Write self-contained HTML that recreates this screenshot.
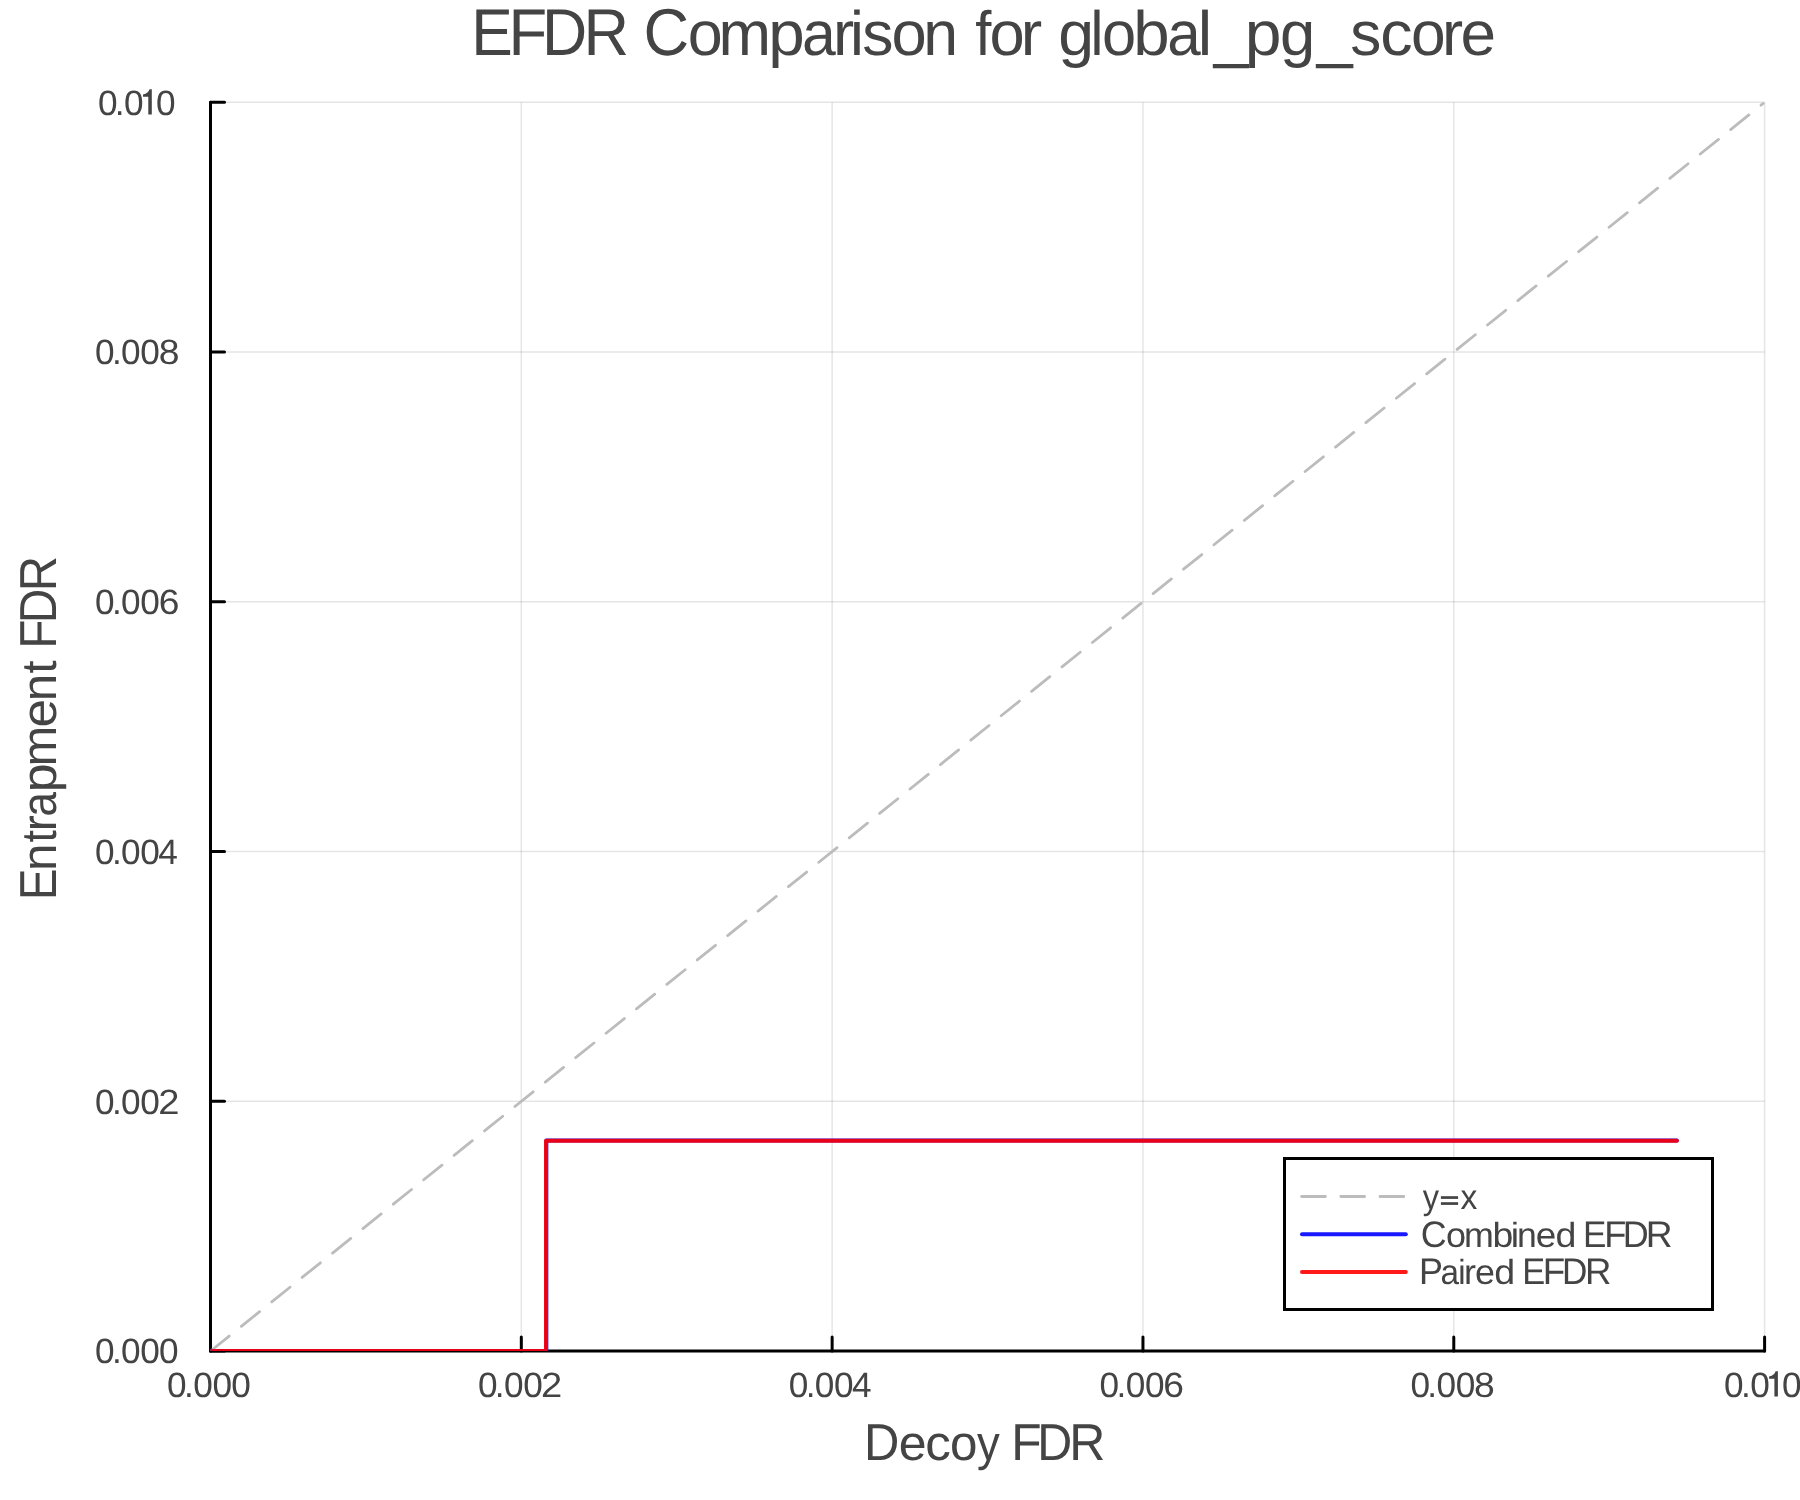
<!DOCTYPE html>
<html><head><meta charset="utf-8"><title>EFDR Comparison for global_pg_score</title>
<style>
html,body{margin:0;padding:0;background:#fff;width:1800px;height:1500px;overflow:hidden}
svg{display:block}
text{font-family:"Liberation Sans",sans-serif;font-kerning:none;text-rendering:geometricPrecision;fill:#444444}
</style></head>
<body>
<svg width="1800" height="1500" viewBox="0 0 1800 1500">
<rect width="1800" height="1500" fill="#fff"/>
<line x1="521.32" y1="102.30" x2="521.32" y2="1351.10" stroke="#000" stroke-opacity="0.1" stroke-width="1.5"/>
<line x1="832.14" y1="102.30" x2="832.14" y2="1351.10" stroke="#000" stroke-opacity="0.1" stroke-width="1.5"/>
<line x1="1142.96" y1="102.30" x2="1142.96" y2="1351.10" stroke="#000" stroke-opacity="0.1" stroke-width="1.5"/>
<line x1="1453.78" y1="102.30" x2="1453.78" y2="1351.10" stroke="#000" stroke-opacity="0.1" stroke-width="1.5"/>
<line x1="1764.60" y1="102.30" x2="1764.60" y2="1351.10" stroke="#000" stroke-opacity="0.1" stroke-width="1.5"/>
<line x1="210.50" y1="1101.34" x2="1764.60" y2="1101.34" stroke="#000" stroke-opacity="0.1" stroke-width="1.5"/>
<line x1="210.50" y1="851.58" x2="1764.60" y2="851.58" stroke="#000" stroke-opacity="0.1" stroke-width="1.5"/>
<line x1="210.50" y1="601.82" x2="1764.60" y2="601.82" stroke="#000" stroke-opacity="0.1" stroke-width="1.5"/>
<line x1="210.50" y1="352.06" x2="1764.60" y2="352.06" stroke="#000" stroke-opacity="0.1" stroke-width="1.5"/>
<line x1="210.50" y1="102.30" x2="1764.60" y2="102.30" stroke="#000" stroke-opacity="0.1" stroke-width="1.5"/>
<polyline points="210.5,102.3 210.5,1351.1 1764.6,1351.1" stroke="#000" stroke-width="3" stroke-linecap="round" fill="none" stroke-linejoin="round"/>
<line x1="210.5" y1="1351.10" x2="224.5" y2="1351.10" stroke="#000" stroke-width="3" stroke-linecap="round" fill="none"/>
<line x1="210.50" y1="1351.1" x2="210.50" y2="1337.1" stroke="#000" stroke-width="3" stroke-linecap="round" fill="none"/>
<line x1="210.5" y1="1101.34" x2="224.5" y2="1101.34" stroke="#000" stroke-width="3" stroke-linecap="round" fill="none"/>
<line x1="521.32" y1="1351.1" x2="521.32" y2="1337.1" stroke="#000" stroke-width="3" stroke-linecap="round" fill="none"/>
<line x1="210.5" y1="851.58" x2="224.5" y2="851.58" stroke="#000" stroke-width="3" stroke-linecap="round" fill="none"/>
<line x1="832.14" y1="1351.1" x2="832.14" y2="1337.1" stroke="#000" stroke-width="3" stroke-linecap="round" fill="none"/>
<line x1="210.5" y1="601.82" x2="224.5" y2="601.82" stroke="#000" stroke-width="3" stroke-linecap="round" fill="none"/>
<line x1="1142.96" y1="1351.1" x2="1142.96" y2="1337.1" stroke="#000" stroke-width="3" stroke-linecap="round" fill="none"/>
<line x1="210.5" y1="352.06" x2="224.5" y2="352.06" stroke="#000" stroke-width="3" stroke-linecap="round" fill="none"/>
<line x1="1453.78" y1="1351.1" x2="1453.78" y2="1337.1" stroke="#000" stroke-width="3" stroke-linecap="round" fill="none"/>
<line x1="210.5" y1="102.30" x2="224.5" y2="102.30" stroke="#000" stroke-width="3" stroke-linecap="round" fill="none"/>
<line x1="1764.60" y1="1351.1" x2="1764.60" y2="1337.1" stroke="#000" stroke-width="3" stroke-linecap="round" fill="none"/>
<clipPath id="c"><rect x="210.5" y="102.3" width="1554.10" height="1248.80"/></clipPath>
<g clip-path="url(#c)"><line x1="210.5" y1="1351.1" x2="1764.6" y2="102.3" stroke="#bcbcbc" stroke-width="2.8" stroke-dasharray="23.4 15.59" stroke-dashoffset="-0.6" stroke-linecap="round"/>
<polyline points="210.5,1351.1 546.35,1351.1 546.35,1140.5 1676.9,1140.5" fill="none" stroke="#0000ff" stroke-opacity="0.9" stroke-width="4" stroke-linecap="round" stroke-linejoin="round"/>
<polyline points="210.5,1351.1 546.0,1351.1 546.0,1140.85 1676.9,1140.85" fill="none" stroke="#ff0000" stroke-opacity="0.9" stroke-width="4" stroke-linecap="round" stroke-linejoin="round"/></g>
<rect x="1284.5" y="1158.5" width="428" height="151" fill="#fff" stroke="#000" stroke-width="3"/>
<line x1="1301.6" y1="1196.5" x2="1403.8" y2="1196.5" stroke="#bcbcbc" stroke-width="2.8" stroke-dasharray="23.8 15.4" stroke-linecap="round"/>
<line x1="1302" y1="1234.2" x2="1405.8" y2="1234.2" stroke="#0000ff" stroke-opacity="0.9" stroke-width="4" stroke-linecap="round"/>
<line x1="1302" y1="1271.9" x2="1405.8" y2="1271.9" stroke="#ff0000" stroke-opacity="0.9" stroke-width="4" stroke-linecap="round"/>
<g opacity="0.999">
<text transform="translate(471.14,54.70) scale(0.9392,1.0)" font-size="66.3">E</text>
<text transform="translate(508.56,54.70) scale(0.9551,1.0)" font-size="66.3">F</text>
<text transform="translate(541.96,54.70) scale(0.9448,1.0)" font-size="66.3">D</text>
<text transform="translate(583.57,54.70) scale(0.9526,1.0)" font-size="66.3">R</text>
<text transform="translate(643.49,54.70) scale(0.9527,1.0)" font-size="66.3">C</text>
<text transform="translate(687.76,54.70) scale(0.9487,0.945)" font-size="66.3">o</text>
<text transform="translate(718.61,54.70) scale(0.9515,0.945)" font-size="66.3">m</text>
<text transform="translate(768.27,54.70) scale(0.9894,0.945)" font-size="66.3">p</text>
<text transform="translate(802.12,54.70) scale(0.9161,0.945)" font-size="66.3">a</text>
<text transform="translate(832.88,54.70) scale(0.9593,0.945)" font-size="66.3">r</text>
<text transform="translate(850.01,54.70) scale(0.9439,0.945)" font-size="66.3">i</text>
<text transform="translate(862.26,54.70) scale(0.9409,0.945)" font-size="66.3">s</text>
<text transform="translate(891.54,54.70) scale(0.9551,0.945)" font-size="66.3">o</text>
<text transform="translate(923.14,54.70) scale(0.9444,0.945)" font-size="66.3">n</text>
<text transform="translate(975.22,54.70) scale(0.8764,0.945)" font-size="66.3">f</text>
<text transform="translate(989.44,54.70) scale(0.9551,0.945)" font-size="66.3">o</text>
<text transform="translate(1020.82,54.70) scale(0.9713,0.945)" font-size="66.3">r</text>
<text transform="translate(1058.19,54.70) scale(0.9726,0.945)" font-size="66.3">g</text>
<text transform="translate(1090.58,54.70) scale(0.8764,0.945)" font-size="66.3">l</text>
<text transform="translate(1102.12,54.70) scale(0.9264,0.945)" font-size="66.3">o</text>
<text transform="translate(1133.29,54.70) scale(0.9861,0.945)" font-size="66.3">b</text>
<text transform="translate(1167.34,54.70) scale(0.9073,0.945)" font-size="66.3">a</text>
<text transform="translate(1197.73,54.70) scale(0.9782,0.945)" font-size="66.3">l</text>
<text transform="translate(1213.85,54.70) scale(0.9425,1.0)" font-size="66.3">_</text>
<text transform="translate(1244.74,54.70) scale(0.9961,0.945)" font-size="66.3">p</text>
<text transform="translate(1279.94,54.70) scale(0.9559,0.945)" font-size="66.3">g</text>
<text transform="translate(1316.78,54.70) scale(0.9736,1.0)" font-size="66.3">_</text>
<text transform="translate(1350.37,54.70) scale(0.9374,0.945)" font-size="66.3">s</text>
<text transform="translate(1380.15,54.70) scale(0.9760,0.945)" font-size="66.3">c</text>
<text transform="translate(1410.89,54.70) scale(0.9392,0.945)" font-size="66.3">o</text>
<text transform="translate(1442.04,54.70) scale(0.9563,0.945)" font-size="66.3">r</text>
<text transform="translate(1460.58,54.70) scale(0.9643,0.945)" font-size="66.3">e</text>
<text transform="translate(864.08,1459.90) scale(0.9434,1.0)" font-size="51.9">D</text>
<text transform="translate(898.67,1459.90) scale(0.9650,0.945)" font-size="51.9">e</text>
<text transform="translate(925.32,1459.90) scale(0.9876,0.945)" font-size="51.9">c</text>
<text transform="translate(950.03,1459.90) scale(0.9508,0.945)" font-size="51.9">o</text>
<text transform="translate(976.95,1459.90) scale(0.8780,0.945)" font-size="51.9">y</text>
<text transform="translate(1011.22,1459.90) scale(0.9579,1.0)" font-size="51.9">F</text>
<text transform="translate(1037.33,1459.90) scale(0.9336,1.0)" font-size="51.9">D</text>
<text transform="translate(1069.20,1459.90) scale(0.9638,1.0)" font-size="51.9">R</text>
<text transform="translate(55.90,900.30) rotate(-90) scale(0.9154,1.0)" font-size="52.0">E</text>
<text transform="translate(55.90,870.88) rotate(-90) scale(0.9507,0.945)" font-size="52.0">n</text>
<text transform="translate(55.90,842.48) rotate(-90) scale(0.8585,0.945)" font-size="52.0">t</text>
<text transform="translate(55.90,831.19) rotate(-90) scale(0.9231,0.945)" font-size="52.0">r</text>
<text transform="translate(55.90,816.69) rotate(-90) scale(0.8536,0.945)" font-size="52.0">a</text>
<text transform="translate(55.90,792.30) rotate(-90) scale(0.9969,0.945)" font-size="52.0">p</text>
<text transform="translate(55.90,766.44) rotate(-90) scale(0.9386,0.945)" font-size="52.0">m</text>
<text transform="translate(55.90,727.47) rotate(-90) scale(0.9836,0.945)" font-size="52.0">e</text>
<text transform="translate(55.90,701.37) rotate(-90) scale(0.9461,0.945)" font-size="52.0">n</text>
<text transform="translate(55.90,673.51) rotate(-90) scale(0.9037,0.945)" font-size="52.0">t</text>
<text transform="translate(55.90,648.83) rotate(-90) scale(0.9207,1.0)" font-size="52.0">F</text>
<text transform="translate(55.90,623.32) rotate(-90) scale(0.9189,1.0)" font-size="52.0">D</text>
<text transform="translate(55.90,591.32) rotate(-90) scale(0.9425,1.0)" font-size="52.0">R</text>
<text x="95.03" y="1363.30" font-size="35.2">0</text>
<text x="111.89" y="1363.30" font-size="35.2">.</text>
<text x="121.12" y="1363.30" font-size="35.2">0</text>
<text x="140.32" y="1363.30" font-size="35.2">0</text>
<text x="159.12" y="1363.30" font-size="35.2">0</text>
<text x="167.12" y="1396.50" font-size="35.2">0</text>
<text x="183.99" y="1396.50" font-size="35.2">.</text>
<text x="193.22" y="1396.50" font-size="35.2">0</text>
<text x="212.43" y="1396.50" font-size="35.2">0</text>
<text x="231.22" y="1396.50" font-size="35.2">0</text>
<text x="95.03" y="1113.54" font-size="35.2">0</text>
<text x="111.89" y="1113.54" font-size="35.2">.</text>
<text x="121.12" y="1113.54" font-size="35.2">0</text>
<text x="140.32" y="1113.54" font-size="35.2">0</text>
<text transform="translate(158.18,1113.54) scale(1.0851,1)" font-size="35.2">2</text>
<text x="477.94" y="1396.50" font-size="35.2">0</text>
<text x="494.81" y="1396.50" font-size="35.2">.</text>
<text x="504.04" y="1396.50" font-size="35.2">0</text>
<text x="523.24" y="1396.50" font-size="35.2">0</text>
<text transform="translate(541.10,1396.50) scale(1.0851,1)" font-size="35.2">2</text>
<text x="95.03" y="863.78" font-size="35.2">0</text>
<text x="111.89" y="863.78" font-size="35.2">.</text>
<text x="121.12" y="863.78" font-size="35.2">0</text>
<text x="140.32" y="863.78" font-size="35.2">0</text>
<text transform="translate(158.29,863.78) scale(1.0001,1)" font-size="35.2">4</text>
<text x="788.76" y="1396.50" font-size="35.2">0</text>
<text x="805.63" y="1396.50" font-size="35.2">.</text>
<text x="814.87" y="1396.50" font-size="35.2">0</text>
<text x="834.06" y="1396.50" font-size="35.2">0</text>
<text transform="translate(852.03,1396.50) scale(1.0001,1)" font-size="35.2">4</text>
<text x="95.03" y="614.02" font-size="35.2">0</text>
<text x="111.89" y="614.02" font-size="35.2">.</text>
<text x="121.12" y="614.02" font-size="35.2">0</text>
<text x="140.32" y="614.02" font-size="35.2">0</text>
<text transform="translate(158.71,614.02) scale(1.0590,1)" font-size="35.2">6</text>
<text x="1099.59" y="1396.50" font-size="35.2">0</text>
<text x="1116.45" y="1396.50" font-size="35.2">.</text>
<text x="1125.68" y="1396.50" font-size="35.2">0</text>
<text x="1144.88" y="1396.50" font-size="35.2">0</text>
<text transform="translate(1163.27,1396.50) scale(1.0590,1)" font-size="35.2">6</text>
<text x="95.03" y="364.26" font-size="35.2">0</text>
<text x="111.89" y="364.26" font-size="35.2">.</text>
<text x="121.12" y="364.26" font-size="35.2">0</text>
<text x="140.32" y="364.26" font-size="35.2">0</text>
<text transform="translate(158.68,364.26) scale(1.0595,1)" font-size="35.2">8</text>
<text x="1410.40" y="1396.50" font-size="35.2">0</text>
<text x="1427.27" y="1396.50" font-size="35.2">.</text>
<text x="1436.50" y="1396.50" font-size="35.2">0</text>
<text x="1455.70" y="1396.50" font-size="35.2">0</text>
<text transform="translate(1474.06,1396.50) scale(1.0595,1)" font-size="35.2">8</text>
<text x="97.92" y="114.50" font-size="35.2">0</text>
<text x="114.79" y="114.50" font-size="35.2">.</text>
<text x="124.12" y="114.50" font-size="35.2">0</text>
<path d="M151.80,89.20 L149.50,89.20 Q148.60,93.20 143.00,94.50 L143.00,96.80 L148.30,96.80 L148.30,114.50 L151.80,114.50 Z" fill="#444444"/>
<text x="155.93" y="114.50" font-size="35.2">0</text>
<text x="1724.02" y="1396.50" font-size="35.2">0</text>
<text x="1740.89" y="1396.50" font-size="35.2">.</text>
<text x="1750.22" y="1396.50" font-size="35.2">0</text>
<path d="M1777.90,1371.20 L1775.60,1371.20 Q1774.70,1375.20 1769.10,1376.50 L1769.10,1378.80 L1774.40,1378.80 L1774.40,1396.50 L1777.90,1396.50 Z" fill="#444444"/>
<text x="1782.02" y="1396.50" font-size="35.2">0</text>
<text transform="translate(1422.82,1208.90) scale(0.8780,0.945)" font-size="37.0">y</text>
<text transform="translate(1460.52,1208.90) scale(0.9103,0.945)" font-size="37.0">x</text>
<rect x="1440.9" y="1196.2" width="17.2" height="2.7" fill="#444444"/><rect x="1440.9" y="1202.2" width="17.2" height="2.7" fill="#444444"/>
<text transform="translate(1420.78,1246.70) scale(0.9688,1.0)" font-size="37.0">C</text>
<text transform="translate(1445.99,1246.70) scale(0.9731,0.945)" font-size="37.0">o</text>
<text transform="translate(1463.92,1246.70) scale(0.9682,0.945)" font-size="37.0">m</text>
<text transform="translate(1492.59,1246.70) scale(1.0097,0.945)" font-size="37.0">b</text>
<text transform="translate(1510.69,1246.70) scale(1.0148,0.945)" font-size="37.0">i</text>
<text transform="translate(1517.04,1246.70) scale(0.9607,0.945)" font-size="37.0">n</text>
<text transform="translate(1535.73,1246.70) scale(0.9964,0.945)" font-size="37.0">e</text>
<text transform="translate(1555.52,1246.70) scale(1.0157,0.945)" font-size="37.0">d</text>
<text transform="translate(1583.12,1246.70) scale(0.9475,1.0)" font-size="37.0">E</text>
<text transform="translate(1604.13,1246.70) scale(0.9787,1.0)" font-size="37.0">F</text>
<text transform="translate(1622.85,1246.70) scale(0.9720,1.0)" font-size="37.0">D</text>
<text transform="translate(1645.70,1246.70) scale(1.0037,1.0)" font-size="37.0">R</text>
<text transform="translate(1419.06,1283.75) scale(0.9699,1.0)" font-size="37.0">P</text>
<text transform="translate(1440.39,1283.75) scale(0.8997,0.945)" font-size="37.0">a</text>
<text transform="translate(1458.19,1283.75) scale(0.8913,0.945)" font-size="37.0">i</text>
<text transform="translate(1463.91,1283.75) scale(0.9730,0.945)" font-size="37.0">r</text>
<text transform="translate(1474.88,1283.75) scale(0.9676,0.945)" font-size="37.0">e</text>
<text transform="translate(1494.32,1283.75) scale(1.0157,0.945)" font-size="37.0">d</text>
<text transform="translate(1522.28,1283.75) scale(0.9300,1.0)" font-size="37.0">E</text>
<text transform="translate(1542.79,1283.75) scale(0.9926,1.0)" font-size="37.0">F</text>
<text transform="translate(1562.12,1283.75) scale(0.9491,1.0)" font-size="37.0">D</text>
<text transform="translate(1584.90,1283.75) scale(0.9878,1.0)" font-size="37.0">R</text>
</g>
</svg>
</body></html>
